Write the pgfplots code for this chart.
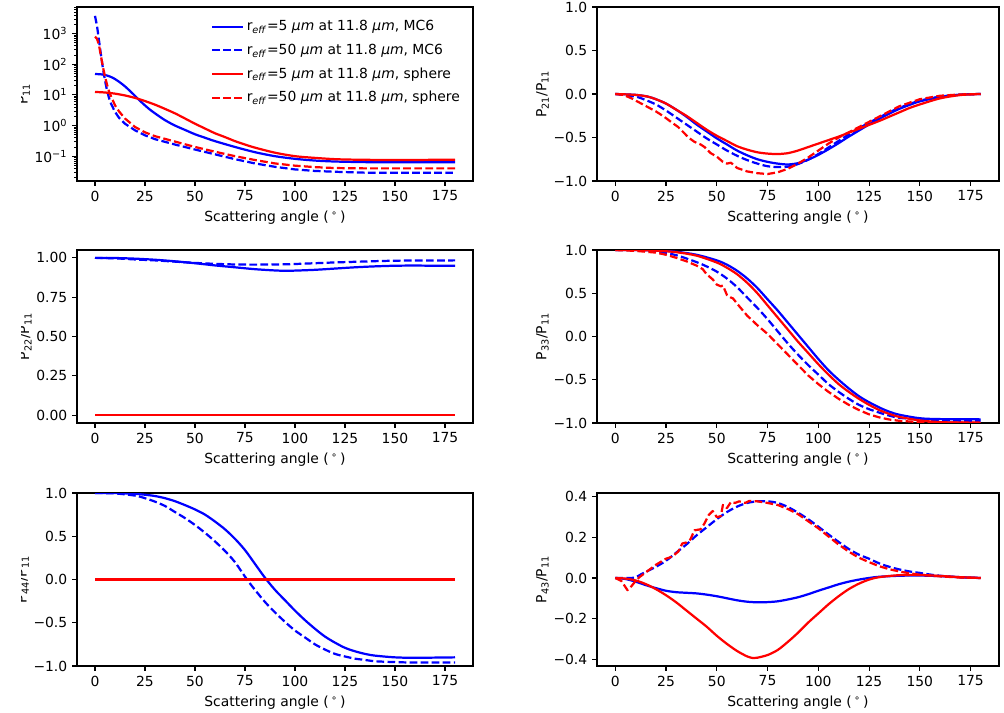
\documentclass[border=0pt]{standalone}
\usepackage{fontspec}
\setmainfont{DejaVu Sans}
\usepackage{pgfplots}
\pgfplotsset{compat=1.18}
\definecolor{mblue}{RGB}{0,0,255}
\definecolor{mred}{RGB}{255,0,0}
\pgfplotsset{
  myax/.style={
    scale only axis,
    xmin=-9, xmax=189,
    xtick={0,25,50,75,100,125,150,175},
    xticklabels={0,25,50,75,100,125,150,175},
    tick align=outside, tick pos=left,
    major tick length=3.5pt, minor tick length=2pt,
    every tick/.style={black, line width=0.8pt},
    every minor tick/.style={black, line width=0.6pt},
    axis line style={line width=0.8pt, black},
    xlabel={Scattering angle (\,\textsuperscript{∘}\,)},
    tick label style={font=\fontsize{10}{12}\selectfont},
    label style={font=\fontsize{10}{12}\selectfont},
    ylabel style={yshift=-3.5pt},
    /pgf/number format/assume math mode=true,
    every axis plot/.append style={line width=1.6pt, line join=round},
    anchor=north west,
  },
  lw/.style={width=285.12pt},
  rw/.style={width=289.44pt},
  bs/.style={mblue, solid},
  bd/.style={mblue, dash pattern=on 5.55pt off 2.4pt},
  rs/.style={mred, solid},
  rd/.style={mred, dash pattern=on 5.55pt off 2.4pt},
  pmone/.style={ymin=-1, ymax=1, ytick={-1,-0.5,0,0.5,1},
    yticklabels={−1.0,−0.5,0.0,0.5,1.0}},
}
\begin{document}
\begin{tikzpicture}
% ---------------- top left: P11 ----------------
\begin{axis}[myax, lw, height=125.28pt, at={(55.44pt,-5.04pt)},
  ymode=log, ymin=0.0155, ymax=7413,
  ytick={0.1,1,10,100,1000},
  yticklabels={10\textsuperscript{−1},10\textsuperscript{0},10\textsuperscript{1},10\textsuperscript{2},10\textsuperscript{3}},
  minor ytick={0.02,0.03,0.04,0.05,0.06,0.07,0.08,0.09,0.2,0.3,0.4,0.5,0.6,0.7,0.8,0.9,2,3,4,5,6,7,8,9,20,30,40,50,60,70,80,90,200,300,400,500,600,700,800,900,2000,3000,4000,5000,6000,7000},
  ylabel={P\textsubscript{11}},
  legend style={draw=none, fill=none, font=\fontsize{10}{12}\selectfont,
    at={(rel axis cs:0.985,0.955)}, anchor=north east, row sep=4pt,
    cells={anchor=west}},
  legend image code/.code={\draw[#1] (0pt,0pt) -- (22pt,0pt);},
]
\addplot[bs, smooth] coordinates {(0,48) (3,47) (6,43) (9,36) (12,27) (15,19) (18,12.5) (21,8) (24,5.2) (27,3.5) (30,2.5) (35,1.5) (40,1.0) (45,0.72) (50,0.52) (55,0.4) (60,0.31) (70,0.2) (80,0.135) (90,0.1) (100,0.082) (110,0.072) (120,0.067) (135,0.064) (150,0.063) (180,0.063)};
\addlegendentry{r\textsubscript{\textit{eff}}=5 \textit{μm} at 11.8 \textit{μm}, MC6}
\addplot[bd] coordinates {(0,3800) (1,1800) (2,600) (3,200) (4,70) (5,30) (6,14) (7,8) (8,5.2) (10,2.8) (12,1.8) (15,1.15) (20,0.7) (25,0.48) (30,0.36) (40,0.24) (50,0.165) (60,0.115) (70,0.08) (80,0.058) (90,0.045) (100,0.037) (110,0.033) (120,0.031) (135,0.029) (180,0.029)};
\addlegendentry{r\textsubscript{\textit{eff}}=50 \textit{μm} at 11.8 \textit{μm}, MC6}
\addplot[rs, smooth] coordinates {(0,12.5) (5,12) (10,11) (15,9.6) (20,8) (25,6.3) (30,4.8) (35,3.5) (40,2.5) (45,1.7) (50,1.15) (55,0.8) (60,0.56) (65,0.42) (70,0.31) (75,0.24) (80,0.19) (90,0.13) (100,0.1) (110,0.088) (120,0.08) (130,0.077) (150,0.075) (180,0.077)};
\addlegendentry{r\textsubscript{\textit{eff}}=5 \textit{μm} at 11.8 \textit{μm}, sphere}
\addplot[rd] coordinates {(0,800) (1,680) (2,420) (3,180) (4,80) (5,40) (6,22) (7,13) (8,9) (10,4.6) (12,2.9) (15,1.7) (20,0.9) (25,0.6) (30,0.45) (40,0.3) (50,0.2) (60,0.14) (70,0.1) (80,0.075) (90,0.058) (100,0.049) (110,0.044) (120,0.041) (135,0.04) (180,0.04)};
\addlegendentry{r\textsubscript{\textit{eff}}=50 \textit{μm} at 11.8 \textit{μm}, sphere}
\end{axis}
% ---------------- top right: P21/P11 ----------------
\begin{axis}[myax, rw, height=125.28pt, at={(429.84pt,-5.04pt)}, pmone,
  ylabel={P\textsubscript{21}/P\textsubscript{11}}]
\addplot[bs, smooth] coordinates {(0,0) (10,-0.01) (16,-0.03) (20,-0.06) (25,-0.11) (30,-0.18) (35,-0.26) (40,-0.35) (45,-0.43) (50,-0.51) (55,-0.58) (60,-0.65) (65,-0.705) (70,-0.75) (75,-0.78) (80,-0.80) (85,-0.81) (90,-0.795) (95,-0.755) (100,-0.70) (105,-0.635) (110,-0.565) (115,-0.49) (120,-0.42) (125,-0.35) (130,-0.285) (135,-0.225) (140,-0.17) (145,-0.125) (150,-0.085) (160,-0.035) (170,-0.008) (180,0)};
\addplot[bd, smooth] coordinates {(0,0) (10,-0.03) (15,-0.07) (20,-0.12) (25,-0.19) (30,-0.27) (35,-0.35) (40,-0.43) (45,-0.51) (50,-0.58) (55,-0.65) (60,-0.71) (65,-0.76) (70,-0.8) (75,-0.83) (80,-0.84) (85,-0.835) (90,-0.805) (95,-0.755) (100,-0.69) (105,-0.615) (110,-0.54) (115,-0.465) (120,-0.395) (125,-0.33) (130,-0.27) (135,-0.21) (140,-0.16) (145,-0.115) (150,-0.077) (160,-0.03) (170,-0.008) (180,0)};
\addplot[rs, smooth] coordinates {(0,0) (10,-0.01) (16,-0.03) (20,-0.06) (25,-0.11) (30,-0.18) (35,-0.25) (40,-0.33) (45,-0.41) (50,-0.48) (55,-0.54) (60,-0.6) (65,-0.64) (70,-0.67) (75,-0.685) (80,-0.69) (85,-0.68) (90,-0.65) (95,-0.61) (100,-0.57) (105,-0.53) (110,-0.49) (115,-0.445) (120,-0.40) (125,-0.355) (130,-0.31) (135,-0.26) (140,-0.21) (145,-0.16) (150,-0.12) (160,-0.05) (170,-0.012) (180,0)};
\addplot[rd] coordinates {(0,0) (4,-0.01) (8,-0.05) (12,-0.1) (16,-0.15) (20,-0.2) (24,-0.26) (28,-0.33) (31,-0.38) (34,-0.45) (36,-0.5) (39,-0.55) (42,-0.58) (44,-0.61) (47,-0.68) (50,-0.72) (53,-0.78) (55,-0.8) (57,-0.79) (60,-0.85) (65,-0.89) (70,-0.91) (75,-0.92) (80,-0.9) (85,-0.86) (90,-0.8) (95,-0.73) (100,-0.65) (105,-0.57) (110,-0.5) (115,-0.44) (120,-0.38) (125,-0.32) (130,-0.26) (135,-0.2) (140,-0.14) (145,-0.1) (150,-0.06) (160,-0.02) (170,-0.005) (180,0)};
\end{axis}
% ---------------- middle left: P22/P11 ----------------
\begin{axis}[myax, lw, height=124.56pt, at={(55.44pt,-180pt)},
  ymin=-0.05, ymax=1.05, ytick={0,0.25,0.5,0.75,1},
  yticklabels={0.00,0.25,0.50,0.75,1.00},
  ylabel={P\textsubscript{22}/P\textsubscript{11}}]
\addplot[bs, smooth] coordinates {(0,1) (10,0.999) (20,0.995) (30,0.988) (40,0.978) (50,0.966) (60,0.952) (70,0.94) (80,0.928) (90,0.92) (95,0.918) (100,0.919) (110,0.924) (120,0.932) (130,0.94) (140,0.946) (150,0.95) (160,0.951) (170,0.95) (180,0.95)};
\addplot[bd, smooth] coordinates {(0,1) (10,0.997) (20,0.99) (30,0.984) (40,0.976) (50,0.968) (60,0.962) (70,0.958) (80,0.957) (90,0.958) (100,0.961) (110,0.966) (120,0.971) (130,0.975) (140,0.979) (150,0.982) (160,0.983) (180,0.984)};
\addplot[rs] coordinates {(0,0) (180,0)};
\addplot[rd] coordinates {(0,0) (180,0)};
\end{axis}
% ---------------- middle right: P33/P11 ----------------
\begin{axis}[myax, rw, height=124.56pt, at={(429.84pt,-180pt)}, pmone,
  ylabel={P\textsubscript{33}/P\textsubscript{11}}]
\addplot[bs, smooth] coordinates {(0,1) (10,1) (20,0.995) (30,0.98) (40,0.945) (50,0.88) (55,0.83) (60,0.76) (65,0.67) (70,0.56) (75,0.43) (80,0.3) (85,0.16) (90,0.02) (95,-0.12) (100,-0.26) (105,-0.39) (110,-0.5) (115,-0.6) (120,-0.69) (125,-0.76) (130,-0.82) (135,-0.87) (140,-0.905) (150,-0.945) (160,-0.955) (180,-0.958)};
\addplot[bd, smooth] coordinates {(0,1) (10,0.997) (20,0.985) (30,0.94) (40,0.86) (45,0.81) (50,0.75) (55,0.67) (60,0.57) (65,0.45) (70,0.33) (75,0.2) (80,0.06) (85,-0.08) (90,-0.21) (95,-0.33) (100,-0.44) (105,-0.55) (110,-0.64) (115,-0.72) (120,-0.79) (125,-0.84) (130,-0.88) (135,-0.915) (140,-0.94) (150,-0.96) (160,-0.97) (180,-0.975)};
\addplot[rs, smooth] coordinates {(0,1) (10,1) (20,0.993) (30,0.975) (40,0.935) (50,0.855) (55,0.795) (60,0.72) (65,0.62) (70,0.5) (75,0.36) (80,0.22) (85,0.08) (90,-0.06) (95,-0.19) (100,-0.32) (105,-0.44) (110,-0.55) (115,-0.64) (120,-0.72) (125,-0.79) (130,-0.85) (135,-0.895) (140,-0.93) (150,-0.97) (160,-0.99) (170,-0.995) (180,-1.0)};
\addplot[rd] coordinates {(0,1) (10,0.99) (20,0.97) (25,0.945) (30,0.91) (35,0.87) (40,0.82) (43,0.78) (45,0.72) (48,0.66) (50,0.6) (52,0.58) (53,0.59) (55,0.48) (57,0.45) (58,0.44) (60,0.38) (62.5,0.31) (65,0.24) (70,0.13) (75,0.03) (80,-0.09) (85,-0.21) (90,-0.33) (95,-0.45) (100,-0.55) (105,-0.64) (110,-0.72) (115,-0.79) (120,-0.85) (125,-0.9) (130,-0.935) (135,-0.96) (140,-0.975) (150,-0.99) (160,-0.995) (180,-0.995)};
\end{axis}
% ---------------- bottom left: P44/P11 ----------------
\begin{axis}[myax, lw, height=124.56pt, at={(55.44pt,-354.96pt)}, pmone,
  ylabel={P\textsubscript{44}/P\textsubscript{11}}]
\addplot[bs, smooth] coordinates {(0,1) (10,1) (20,0.99) (25,0.98) (30,0.965) (35,0.94) (40,0.905) (45,0.86) (50,0.81) (55,0.75) (60,0.67) (65,0.58) (70,0.47) (75,0.34) (80,0.18) (85,0.02) (90,-0.12) (95,-0.24) (100,-0.36) (105,-0.47) (110,-0.57) (115,-0.66) (120,-0.73) (125,-0.79) (130,-0.83) (135,-0.86) (140,-0.88) (150,-0.9) (160,-0.905) (180,-0.9)};
\addplot[bd, smooth] coordinates {(0,1) (10,0.995) (20,0.97) (25,0.94) (30,0.9) (35,0.85) (40,0.78) (45,0.71) (50,0.63) (55,0.54) (60,0.44) (65,0.33) (70,0.2) (76,0.0) (80,-0.12) (85,-0.26) (90,-0.38) (95,-0.49) (100,-0.59) (105,-0.67) (110,-0.75) (115,-0.81) (120,-0.86) (125,-0.89) (130,-0.915) (135,-0.93) (140,-0.945) (150,-0.955) (160,-0.96) (180,-0.96)};
\addplot[rs] coordinates {(0,0) (180,0)};
\addplot[rd] coordinates {(0,0) (180,0)};
\end{axis}
% ---------------- bottom right: P43/P11 ----------------
\begin{axis}[myax, rw, height=124.56pt, at={(429.84pt,-354.96pt)},
  ymin=-0.434, ymax=0.419, ytick={-0.4,-0.2,0,0.2,0.4},
  yticklabels={−0.4,−0.2,0.0,0.2,0.4},
  ylabel={P\textsubscript{43}/P\textsubscript{11}}]
\addplot[bs, smooth] coordinates {(0,0) (5,-0.005) (10,-0.018) (15,-0.035) (20,-0.05) (25,-0.063) (30,-0.07) (35,-0.073) (40,-0.076) (45,-0.082) (50,-0.09) (55,-0.1) (60,-0.11) (65,-0.117) (70,-0.12) (75,-0.119) (80,-0.115) (85,-0.106) (90,-0.095) (95,-0.08) (100,-0.063) (105,-0.047) (110,-0.031) (115,-0.018) (120,-0.008) (125,0.0) (130,0.006) (140,0.011) (150,0.012) (160,0.009) (170,0.004) (180,0)};
\addplot[bd, smooth] coordinates {(0,0) (8,0) (10,0.003) (13,0.02) (16,0.035) (20,0.055) (25,0.085) (30,0.125) (35,0.165) (40,0.21) (45,0.25) (50,0.29) (55,0.325) (60,0.352) (65,0.37) (70,0.378) (75,0.378) (80,0.37) (85,0.35) (90,0.322) (95,0.29) (100,0.253) (105,0.215) (110,0.178) (115,0.143) (120,0.115) (125,0.095) (130,0.072) (135,0.055) (140,0.042) (145,0.032) (150,0.025) (155,0.017) (160,0.011) (170,0.003) (180,0)};
\addplot[rs, smooth] coordinates {(0,0) (5,-0.003) (10,-0.012) (15,-0.03) (20,-0.055) (25,-0.085) (30,-0.12) (35,-0.16) (40,-0.2) (45,-0.24) (50,-0.285) (55,-0.325) (60,-0.36) (65,-0.387) (68,-0.395) (70,-0.393) (75,-0.38) (80,-0.355) (85,-0.315) (90,-0.27) (95,-0.22) (100,-0.175) (105,-0.13) (110,-0.09) (115,-0.055) (120,-0.028) (125,-0.008) (130,0.004) (140,0.014) (150,0.015) (160,0.01) (170,0.004) (180,0)};
\addplot[rd] coordinates {(0,0) (3,-0.015) (6,-0.06) (8,-0.04) (10,-0.015) (12,0.005) (16,0.035) (20,0.065) (25,0.095) (28,0.105) (31,0.13) (33,0.17) (35,0.175) (37,0.19) (39,0.235) (42,0.24) (44,0.27) (46,0.31) (48,0.33) (50,0.30) (52,0.305) (53,0.36) (55,0.345) (57,0.375) (59,0.37) (61,0.378) (64,0.37) (66,0.38) (70,0.378) (75,0.37) (80,0.36) (85,0.34) (90,0.315) (95,0.28) (100,0.245) (105,0.205) (110,0.165) (115,0.13) (120,0.1) (125,0.078) (130,0.058) (135,0.043) (140,0.032) (145,0.023) (150,0.016) (160,0.008) (170,0.002) (180,0)};
\end{axis}
\fill[white] (0pt,0pt) rectangle (15.12pt,-513.36pt);
\pgfresetboundingbox
\path[use as bounding box] (0pt,0pt) rectangle (722.88pt,-513.36pt);
\end{tikzpicture}
\end{document}
